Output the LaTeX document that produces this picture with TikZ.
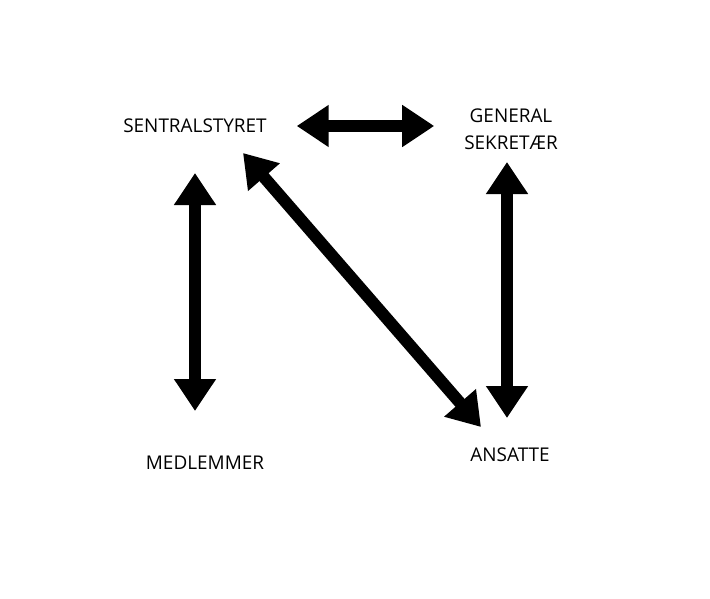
\documentclass[tikz,border=0pt]{standalone}
\usepackage{fontspec}
\setmainfont{Open Sans}
\usetikzlibrary{arrows.meta}

\begin{document}
\begin{tikzpicture}[x=0.75pt, y=-0.75pt,
    every node/.style={font=\fontsize{14.2}{20}\selectfont, align=center},
    link/.style={line width=9pt, {Triangle[length=24pt,width=30pt]}-{Triangle[length=24pt,width=30pt]}}]
    \useasboundingbox (0,0) rectangle (710,599);
    \node (sentral) at (195,126) {SENTRALSTYRET};
    \node (general) at (511,129) {GENERAL\\SEKRETÆR};
    \node (medlem) at (205,463) {MEDLEMMER};
    \node (ansatte) at (510,455) {ANSATTE};
    \coordinate (diagA) at (243,153);
    \coordinate (diagB) at (481,427);
    \draw [link] ([xshift=19pt]sentral.east) -- ([xshift=-19pt]general.west |- sentral.east);
    \draw [link] (sentral.south |- 0,173) -- (sentral.south |- 0,411);
    \draw [link] ([xshift=-3pt]general.south |- 0,162) -- ([xshift=-3pt]general.south |- 0,418);
    \draw [link] (diagA) -- (diagB);
    % \draw (diagA) node [draw,circle] {};
\end{tikzpicture}
\end{document}
